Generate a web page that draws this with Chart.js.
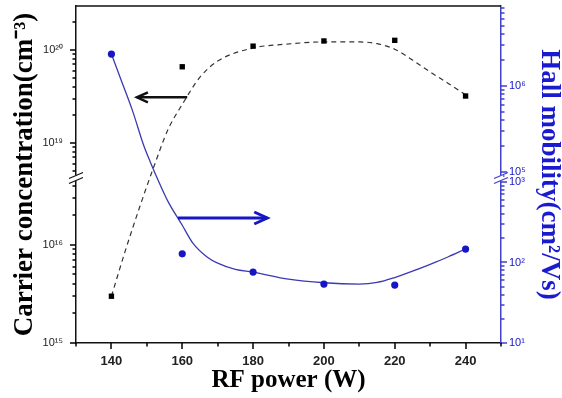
<!DOCTYPE html>
<html>
<head>
<meta charset="utf-8">
<script src="https://cdn.jsdelivr.net/npm/chart.js@4.4.1/dist/chart.umd.min.js"></script>
<style>
  html, body { margin: 0; padding: 0; background: #fff; }
  #wrap { width: 562px; height: 398px; }
</style>
</head>
<body>
<div id="wrap"><canvas id="c" width="562" height="398"></canvas></div>
<script>
// ---------------- data ----------------
const rfPower = [140, 160, 180, 200, 220, 240];
const carrierConc = [3.0e15, 6.6e19, 1.1e20, 1.25e20, 1.27e20, 3.2e19];   // cm^-3
const hallMobility = [2.35e6, 128, 76, 54, 52.5, 147];                      // cm^2/Vs

// fitted guide curves
const carrierFitX = [140, 144, 148, 152, 156, 160, 165, 170, 180, 190, 200, 210, 215, 220, 225, 230, 235, 240];
const carrierFitY = [3.0e15, 8.9e15, 2.45e16, 5.6e18, 1.4e19, 2.6e19, 5.1e19, 7.6e19, 1.05e20, 1.16e20, 1.22e20, 1.22e20, 1.17e20, 1.02e20, 7.8e19, 5.8e19, 4.4e19, 3.3e19];
const mobilityFitX = [140, 143, 146, 149, 151, 153.5, 156, 160, 163, 167, 170, 175, 180, 190, 200, 210, 215, 220, 225, 230, 235, 240];
const mobilityFitY = [2.35e6, 1.1e6, 5.1e5, 2.1e5, 1.3e5, 980, 570, 290, 174, 117, 98, 82, 76, 62, 56, 54, 56.5, 65, 78, 95, 117, 147];

// axis ranges (broken axes: lower part / upper part)
const xRange = [130, 250];
const xLabelTicks = [140, 160, 180, 200, 220, 240];
const leftLowerRange = [1e15, 4.6e16];
const leftUpperRange = [4.42e18, 2.97e20];
const rightLowerRange = [10, 1059];
const rightUpperRange = [8.97e4, 8.51e6];

// arrows (data coordinates)
const carrierArrow = { fromX: 161.4, toX: 147.2, y: 3.1e19 };
const mobilityArrow = { fromX: 158.8, toX: 184, y: 357 };

// ---------------- layout ----------------
const LOWER_TOP = 0.4837, UPPER_BOTTOM = 0.4955;
const SEGMENTS = {
  yL: [
    { min: leftLowerRange[0], max: leftLowerRange[1], from: 0, to: LOWER_TOP },
    { min: leftUpperRange[0], max: leftUpperRange[1], from: UPPER_BOTTOM, to: 1 }
  ],
  yR: [
    { min: rightLowerRange[0], max: rightLowerRange[1], from: 0, to: LOWER_TOP },
    { min: rightUpperRange[0], max: rightUpperRange[1], from: UPPER_BOTTOM, to: 1 }
  ]
};
const BLUE = '#1616c4';
const BLUE_LINE = '#3a3ab2';
const BLUE_AXIS = '#4040cc';
const BLACK = '#111111';

// ---------------- custom broken logarithmic scale ----------------
class BrokenLogScale extends Chart.LogarithmicScale {
  determineDataLimits() {
    const s = SEGMENTS[this.id];
    this.min = s[0].min;
    this.max = s[s.length - 1].max;
  }
  buildTicks() {
    const ticks = [];
    for (const s of SEGMENTS[this.id]) {
      const d0 = Math.floor(Math.log10(s.min)), d1 = Math.ceil(Math.log10(s.max));
      for (let d = d0; d <= d1; d++) {
        for (let m = 1; m <= 9; m++) {
          const v = m * Math.pow(10, d);
          if (v >= s.min * (1 - 1e-9) && v <= s.max * (1 + 1e-9)) ticks.push({ value: v, major: m === 1 });
        }
      }
    }
    return ticks;
  }
  _frac(v) {
    const segs = SEGMENTS[this.id];
    const lv = Math.log10(v);
    for (let i = 0; i < segs.length; i++) {
      const s = segs[i];
      const a = Math.log10(s.min), b = Math.log10(s.max);
      if (lv <= b || i === segs.length - 1) {
        if (lv >= a || i === 0) return s.from + (lv - a) / (b - a) * (s.to - s.from);
        const p = segs[i - 1];
        const pb = Math.log10(p.max);
        return p.to + (lv - pb) / (a - pb) * (s.from - p.to);
      }
    }
    return 0;
  }
  getPixelForValue(v) {
    if (v === undefined || v === null || !(v > 0)) return NaN;
    return this.bottom - this._frac(v) * (this.bottom - this.top);
  }
  getValueForPixel(px) {
    const f = (this.bottom - px) / (this.bottom - this.top);
    const segs = SEGMENTS[this.id];
    for (const s of segs) {
      if (f <= s.to) {
        const a = Math.log10(s.min), b = Math.log10(s.max);
        return Math.pow(10, a + (f - s.from) / (s.to - s.from) * (b - a));
      }
    }
    return segs[segs.length - 1].max;
  }
}
BrokenLogScale.id = 'brokenLog';
BrokenLogScale.defaults = {};
Chart.register(BrokenLogScale);

const SUP = { '0': '⁰', '1': '¹', '2': '²', '3': '³', '4': '⁴', '5': '⁵', '6': '⁶', '7': '⁷', '8': '⁸', '9': '⁹', '-': '⁻' };
function decadeLabel(v) {
  const e = Math.floor(Math.log10(v) + 1e-9);
  const m = v / Math.pow(10, e);
  if (Math.abs(m - 1) > 1e-6) return '';
  return '10' + String(e).split('').map(c => SUP[c]).join('');
}

// ---------------- decorations plugin ----------------
function drawTickMarks(ctx, scale, side, color, area) {
  ctx.save();
  ctx.fillStyle = color;
  for (const t of scale.ticks) {
    const major = side === 'bottom' ? xLabelTicks.includes(t.value) : t.major;
    const len = major ? 6 : 3.5;
    const p = Math.round(scale.getPixelForValue(t.value));
    if (side === 'left') ctx.fillRect(area.left - len, p - 0.75, len, 1.5);
    else if (side === 'right') ctx.fillRect(area.right, p - 0.75, len, 1.5);
    else ctx.fillRect(p - 0.75, area.bottom, 1.5, len);
  }
  ctx.restore();
}
function drawBreak(ctx, scale, x, color) {
  const segs = SEGMENTS[scale.id];
  const c = (scale.getPixelForValue(segs[0].max) + scale.getPixelForValue(segs[1].min)) / 2;
  ctx.save();
  ctx.fillStyle = '#fff';
  ctx.fillRect(x - 2, c - 3, 4, 6);
  ctx.strokeStyle = color;
  ctx.lineWidth = 1.3;
  for (const dy of [-2.5, 2.5]) {
    ctx.beginPath();
    ctx.moveTo(x - 7, c + dy + 3);
    ctx.lineTo(x + 7, c + dy - 3);
    ctx.stroke();
  }
  ctx.restore();
}
function drawArrow(ctx, x1, x2, y, color, width, headLen, headHalf) {
  ctx.save();
  ctx.strokeStyle = color;
  ctx.lineWidth = width;
  ctx.beginPath();
  ctx.moveTo(x1, y);
  ctx.lineTo(x2, y);
  ctx.stroke();
  const dir = Math.sign(x2 - x1);
  ctx.beginPath();
  ctx.moveTo(x2 - dir * headLen, y - headHalf);
  ctx.lineTo(x2, y);
  ctx.lineTo(x2 - dir * headLen, y + headHalf);
  ctx.stroke();
  ctx.restore();
}
const decor = {
  id: 'decor',
  afterDraw(chart) {
    const { ctx, chartArea: a, scales } = chart;
    ctx.save();
    ctx.strokeStyle = BLACK;
    ctx.lineWidth = 1.5;
    ctx.beginPath();
    ctx.moveTo(a.left, a.top);
    ctx.lineTo(a.right, a.top);
    ctx.stroke();
    drawTickMarks(ctx, scales.yL, 'left', '#000000', a);
    drawTickMarks(ctx, scales.yR, 'right', BLUE_AXIS, a);
    drawTickMarks(ctx, scales.x, 'bottom', '#000000', a);
    drawBreak(ctx, scales.yL, a.left, BLACK);
    drawBreak(ctx, scales.yR, a.right, BLUE_AXIS);
    drawArrow(ctx, scales.x.getPixelForValue(carrierArrow.fromX), scales.x.getPixelForValue(carrierArrow.toX),
      scales.yL.getPixelForValue(carrierArrow.y), BLACK, 2.5, 11, 5);
    drawArrow(ctx, scales.x.getPixelForValue(mobilityArrow.fromX), scales.x.getPixelForValue(mobilityArrow.toX),
      scales.yR.getPixelForValue(mobilityArrow.y), BLUE, 3, 13, 6);
    ctx.restore();
  }
};

// ---------------- chart ----------------
const pts = (xs, ys) => xs.map((x, i) => ({ x, y: ys[i] }));
const fitV = w => s => { s.width = w; s.paddingTop = 0; s.paddingBottom = 0; };
const gridOpts = () => ({ display: true, drawOnChartArea: false, drawTicks: true, tickLength: 6, tickColor: 'rgba(0,0,0,0)' });

new Chart(document.getElementById('c'), {
  type: 'line',
  data: {
    datasets: [
      { label: 'Carrier concentration', data: pts(rfPower, carrierConc), yAxisID: 'yL', showLine: false,
        pointStyle: 'rect', pointRadius: 3.8, pointBackgroundColor: '#000', pointBorderColor: '#000', pointBorderWidth: 0 },
      { label: 'Hall mobility', data: pts(rfPower, hallMobility), yAxisID: 'yR', showLine: false,
        pointStyle: 'circle', pointRadius: 3.6, pointBackgroundColor: BLUE, pointBorderColor: BLUE, pointBorderWidth: 0 },
      { label: 'Carrier fit', data: pts(carrierFitX, carrierFitY), yAxisID: 'yL', borderColor: '#333', borderWidth: 1.2,
        borderDash: [5, 4], pointRadius: 0, cubicInterpolationMode: 'monotone', fill: false },
      { label: 'Mobility fit', data: pts(mobilityFitX, mobilityFitY), yAxisID: 'yR', borderColor: BLUE_LINE, borderWidth: 1.3,
        pointRadius: 0, cubicInterpolationMode: 'monotone', fill: false }
    ]
  },
  options: {
    responsive: false,
    animation: false,
    events: [],
    layout: { padding: { top: 6, left: 0, right: 0, bottom: 0 } },
    plugins: { legend: { display: false }, tooltip: { enabled: false } },
    scales: {
      x: {
        type: 'linear', position: 'bottom', min: xRange[0], max: xRange[1],
        afterFit: s => { s.height = 55; s.paddingLeft = 0; s.paddingRight = 0; },
        ticks: { stepSize: 10, autoSkip: false, maxRotation: 0, padding: 5, color: '#222',
          font: { family: '"Liberation Sans", Arial, sans-serif', size: 13, weight: 'bold' },
          callback: v => (xLabelTicks.includes(v) ? String(v) : '') },
        grid: gridOpts(),
        border: { display: true, color: BLACK, width: 1.5 },
        title: { display: true, text: 'RF power (W)', color: '#000',
          font: { family: '"Liberation Serif", "Times New Roman", serif', size: 25, weight: 'bold', lineHeight: 1 },
          padding: { top: 0, bottom: 4.5 } }
      },
      yL: {
        type: 'brokenLog', position: 'left', afterFit: fitV(76),
        ticks: { autoSkip: false, padding: 7, color: '#222',
          font: { family: '"Liberation Sans", Arial, sans-serif', size: 11 }, callback: v => decadeLabel(v) },
        grid: gridOpts(),
        border: { display: true, color: BLACK, width: 1.5 },
        title: { display: true, text: 'Carrier concentration(cm⁻³)', color: '#000',
          font: { family: '"Liberation Serif", "Times New Roman", serif', size: 27, weight: 'bold', lineHeight: 1 },
          padding: { top: 12, bottom: 0 } }
      },
      yR: {
        type: 'brokenLog', position: 'right', afterFit: fitV(61),
        ticks: { autoSkip: false, padding: 2, color: BLUE,
          font: { family: '"Liberation Sans", Arial, sans-serif', size: 11 }, callback: v => decadeLabel(v) },
        grid: gridOpts(),
        border: { display: true, color: BLUE_AXIS, width: 1.5 },
        title: { display: true, text: 'Hall mobility(cm²/Vs)', color: '#1a1ad0',
          font: { family: '"Liberation Serif", "Times New Roman", serif', size: 27, weight: 'bold', lineHeight: 1 },
          padding: { top: 0, bottom: 0 } }
      }
    }
  },
  plugins: [decor]
});
</script>
</body>
</html>
